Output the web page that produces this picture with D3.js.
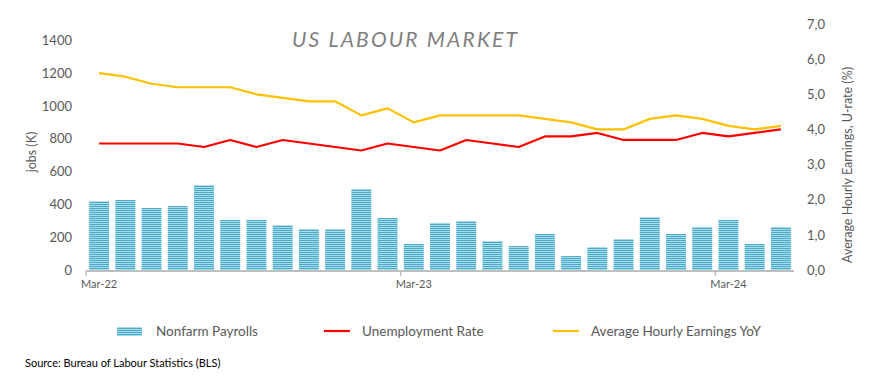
<!DOCTYPE html>
<html>
<head>
<meta charset="utf-8">
<script src="https://cdn.jsdelivr.net/npm/d3@7"></script>
<style>
  html, body { margin: 0; padding: 0; background: #fff; }
  svg { display: block; font-family: Lato, "Open Sans", "Noto Sans", sans-serif; }
</style>
</head>
<body>
<svg id="chart" width="874" height="384"></svg>
<script>
const months = ["Mar-22","Apr-22","May-22","Jun-22","Jul-22","Aug-22","Sep-22","Oct-22","Nov-22","Dec-22",
  "Jan-23","Feb-23","Mar-23","Apr-23","May-23","Jun-23","Jul-23","Aug-23","Sep-23","Oct-23","Nov-23","Dec-23",
  "Jan-24","Feb-24","Mar-24","Apr-24","May-24"];
const payrolls = [420, 427, 378, 390, 518, 305, 305, 274, 250, 250,
  494, 317, 159, 287, 299, 177, 146, 220, 85, 140, 189, 323,
  220, 262, 305, 159, 262];
const unemployment = [3.6, 3.6, 3.6, 3.6, 3.5, 3.7, 3.5, 3.7, 3.6, 3.5,
  3.4, 3.6, 3.5, 3.4, 3.7, 3.6, 3.5, 3.8, 3.8, 3.9, 3.7, 3.7,
  3.7, 3.9, 3.8, 3.9, 4.0];
const earnings = [5.6, 5.5, 5.3, 5.2, 5.2, 5.2, 5.0, 4.9, 4.8, 4.8,
  4.4, 4.6, 4.2, 4.4, 4.4, 4.4, 4.4, 4.3, 4.2, 4.0, 4.0, 4.3,
  4.4, 4.3, 4.1, 4.0, 4.1];
const leftTicks = [0, 200, 400, 600, 800, 1000, 1200, 1400];
const rightTicks = [0, 1, 2, 3, 4, 5, 6, 7];
const xLabels = ["Mar-22", "Mar-23", "Mar-24"];

const svg = d3.select("#chart");
const textCol = "#595959";

const defs = svg.append("defs");
const pat = defs.append("pattern").attr("id", "stripes")
  .attr("patternUnits", "userSpaceOnUse").attr("width", 4).attr("height", 2);
pat.append("rect").attr("width", 4).attr("height", 2).attr("fill", "#a9dbea");
pat.append("rect").attr("width", 4).attr("height", 1).attr("fill", "#4aabc9");

const x = d3.scaleBand().domain(months).range([86, 794]).paddingInner(0.24).paddingOuter(0.12);
const yL = d3.scaleLinear().domain([0, 1500]).range([270, 24]);
const yR = d3.scaleLinear().domain([0, 7]).range([270, 24]);

// Title
svg.append("text").attr("x", 292).attr("y", 47)
  .attr("font-size", 21).attr("font-style", "italic").attr("fill", "#7f7f7f")
  .attr("textLength", 225).attr("lengthAdjust", "spacing")
  .text("US LABOUR MARKET");

// Left axis
const gL = svg.append("g").attr("transform", "translate(76,0)")
  .call(d3.axisLeft(yL).tickValues(leftTicks).tickSize(0).tickPadding(4).tickFormat(d3.format("d")));
gL.select(".domain").remove();
gL.selectAll("text").attr("font-size", 13).attr("fill", textCol).style("font-family", "Lato, 'Open Sans', sans-serif");

// Right axis
const gR = svg.append("g").attr("transform", "translate(803,0)")
  .call(d3.axisRight(yR).tickValues(rightTicks).tickSize(0).tickPadding(4)
    .tickFormat(d => d.toFixed(1).replace(".", ",")));
gR.select(".domain").remove();
gR.selectAll("text").attr("font-size", 13).attr("fill", textCol).style("font-family", "Lato, 'Open Sans', sans-serif");

// Axis titles
svg.append("text").attr("transform", "translate(36,152) rotate(-90)")
  .attr("text-anchor", "middle").attr("font-size", 12.5).attr("fill", textCol).text("jobs (K)");
svg.append("text").attr("transform", "translate(852,165) rotate(-90)")
  .attr("text-anchor", "middle").attr("font-size", 12.5).attr("fill", textCol)
  .text("Average Hourly Earnings, U-rate (%)");

// Bars
svg.append("g").selectAll("rect").data(payrolls).join("rect")
  .attr("x", (d, i) => x(months[i]))
  .attr("y", d => yL(d))
  .attr("width", x.bandwidth())
  .attr("height", d => yL(0) - yL(d))
  .attr("fill", "url(#stripes)");

// X axis line
const half = x.step() * x.paddingInner() / 2;
svg.append("line").attr("x1", x.range()[0]).attr("x2", x.range()[1])
  .attr("y1", 271).attr("y2", 271).attr("stroke", "#bfbfbf").attr("stroke-width", 2.2);
svg.append("g").selectAll("line").data(xLabels).join("line")
  .attr("x1", d => x(d) - half).attr("x2", d => x(d) - half)
  .attr("y1", 271).attr("y2", 276).attr("stroke", "#bfbfbf").attr("stroke-width", 1.5);
const gX = svg.append("g").attr("transform", "translate(0,271)")
  .call(d3.axisBottom(x).tickValues(xLabels).tickSize(0).tickPadding(9));
gX.select(".domain").remove();
gX.selectAll("text").attr("font-size", 11).attr("fill", textCol).style("font-family", "Lato, 'Open Sans', sans-serif");

// Lines
const cx = m => x(m) + x.bandwidth() / 2;
svg.append("path").datum(earnings)
  .attr("fill", "none").attr("stroke", "#ffc000").attr("stroke-width", 2.2).attr("stroke-linejoin", "round")
  .attr("d", d3.line().x((d, i) => cx(months[i])).y(d => yR(d)));
svg.append("path").datum(unemployment)
  .attr("fill", "none").attr("stroke", "#ff0000").attr("stroke-width", 2.2).attr("stroke-linejoin", "round")
  .attr("d", d3.line().x((d, i) => cx(months[i])).y(d => yR(d)));

// Legend
const lg = svg.append("g").attr("font-size", 13.5).attr("fill", textCol);
lg.append("rect").attr("x", 117).attr("y", 327).attr("width", 25).attr("height", 9).attr("fill", "url(#stripes)");
lg.append("text").attr("x", 156).attr("y", 336).text("Nonfarm Payrolls");
lg.append("line").attr("x1", 324).attr("x2", 350).attr("y1", 331).attr("y2", 331).attr("stroke", "#ff0000").attr("stroke-width", 2.2);
lg.append("text").attr("x", 362).attr("y", 336).text("Unemployment Rate");
lg.append("line").attr("x1", 553).attr("x2", 579).attr("y1", 331).attr("y2", 331).attr("stroke", "#ffc000").attr("stroke-width", 2.2);
lg.append("text").attr("x", 591).attr("y", 336).text("Average Hourly Earnings YoY");

// Source
svg.append("text").attr("x", 25).attr("y", 367).attr("font-size", 11).attr("fill", "#000")
  .text("Source: Bureau of Labour Statistics (BLS)");
</script>
</body>
</html>
